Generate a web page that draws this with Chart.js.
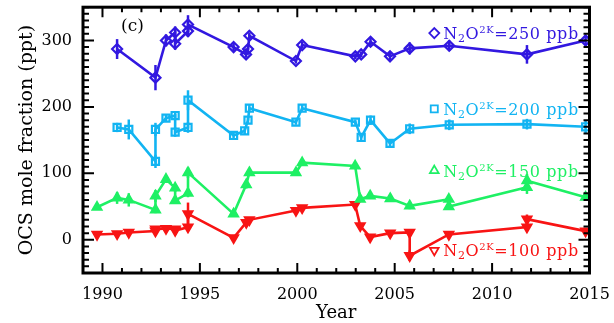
<!DOCTYPE html>
<html>
<head>
<meta charset="utf-8">
<script src="https://cdn.jsdelivr.net/npm/chart.js@4/dist/chart.umd.min.js"></script>
<style>
html, body { margin: 0; padding: 0; background: #fff; }
</style>
</head>
<body>
<canvas id="ocs" width="614" height="323"></canvas>
<script>
// OCS mole fraction (ppt) at four N2O 2K levels, with retrieval uncertainty
const years250 = [1990.75, 1992.72, 1993.26, 1993.73, 1993.73, 1994.39, 1994.39, 1996.73, 1997.37, 1997.47, 1997.54, 1999.93, 2000.25, 2002.98, 2003.28, 2003.76, 2004.76, 2005.77, 2007.8, 2011.79, 2014.8];
const ocs250 = [287, 244, 300, 312, 295, 314, 324, 290, 279, 287, 307, 269, 293, 276, 279, 298, 276, 288, 292, 279, 300];
const err250 = [15, 19, 9, 9, 9, 9, 14, 6, 5, 5, 5, 4, 5, 4, 4, 6, 6, 9, 8, 14, 8];

const years200 = [1990.75, 1991.35, 1992.72, 1992.72, 1993.26, 1993.73, 1993.73, 1994.39, 1994.39, 1996.73, 1997.3, 1997.47, 1997.54, 1999.93, 2000.25, 2002.98, 2003.28, 2003.76, 2004.76, 2005.77, 2007.8, 2011.79, 2014.8];
const ocs200 = [169, 166, 118, 166, 183, 187, 162, 169, 210, 157, 164, 180, 198, 177, 198, 177, 154, 180, 145, 167, 173, 174, 170];
const err200 = [7, 15, 10, 10, 5, 6, 7, 8, 15, 4, 5, 6, 5, 4, 5, 4, 5, 7, 4, 8, 8, 8, 10];

const years150 = [1989.72, 1990.75, 1991.35, 1992.72, 1992.72, 1993.26, 1993.73, 1993.73, 1994.39, 1994.39, 1996.73, 1997.38, 1997.54, 1999.93, 2000.25, 2002.97, 2003.23, 2003.74, 2004.77, 2005.77, 2007.78, 2007.78, 2011.79, 2011.79, 2014.8];
const ocs150 = [49, 63, 60, 45, 66, 91, 78, 59, 70, 101, 39, 83, 101, 101, 116, 111, 61, 66, 62, 51, 61, 50, 79, 89, 64];
const err150 = [4, 9, 10, 5, 9, 5, 6, 5, 6, 8, 4, 6, 5, 4, 5, 4, 4, 4, 4, 5, 5, 5, 10, 10, 5];

const years100 = [1989.72, 1990.75, 1991.35, 1992.72, 1992.72, 1993.26, 1993.73, 1993.73, 1994.39, 1994.39, 1996.73, 1997.38, 1997.54, 1999.93, 2000.25, 2002.97, 2003.23, 2003.74, 2004.77, 2005.77, 2005.77, 2007.78, 2011.79, 2011.79, 2014.8];
const ocs100 = [8, 9, 11, 13, 16, 17, 16, 14, 19, 39, 3, 26, 30, 44, 48, 53, 21, 4, 10, 11, -24, 8, 19, 31, 13];
const err100 = [3, 3, 3, 4, 4, 3, 3, 3, 4, 17, 3, 4, 4, 3, 3, 3, 4, 3, 3, 3, 8, 3, 4, 7, 3];

const levels = ['250', '200', '150', '100'];
const yearTicks = [1990, 1995, 2000, 2005, 2010, 2015];
const ocsTicks = [0, 100, 200, 300];

const FONT = '"DejaVu Serif", "Liberation Serif", serif';
const colors = ['#3218e0', '#12b4f2', '#1ef064', '#f81414'];

function series(years, vals, errs, color, style, filled, rotation) {
  return {
    data: years.map((x, i) => ({x: x, y: vals[i]})),
    errors: errs,
    borderColor: color,
    backgroundColor: color,
    borderWidth: 2.6,
    tension: 0,
    pointStyle: style,
    pointRadius: 5,
    pointBorderWidth: 2.2,
    pointRotation: rotation,
    pointBackgroundColor: filled ? color : 'rgba(0,0,0,0)',
  };
}

// vertical error bars, drawn under the markers
const errorBars = {
  id: 'errorBars',
  beforeDatasetsDraw(chart) {
    const {ctx, scales: {x, y}} = chart;
    ctx.save();
    ctx.lineWidth = 2.5;
    chart.data.datasets.forEach(ds => {
      ctx.strokeStyle = ds.borderColor;
      ds.data.forEach((p, i) => {
        const e = ds.errors[i];
        const px = x.getPixelForValue(p.x);
        ctx.beginPath();
        ctx.moveTo(px, y.getPixelForValue(p.y - e));
        ctx.lineTo(px, y.getPixelForValue(p.y + e));
        ctx.stroke();
      });
    });
    ctx.restore();
  }
};

// closed frame with inward major/minor ticks on all four sides
const frame = {
  id: 'frame',
  afterDraw(chart) {
    const {ctx, chartArea: a, scales: {x, y}} = chart;
    ctx.save();
    ctx.strokeStyle = '#000';
    ctx.lineWidth = 2;
    ctx.beginPath();
    for (let yr = Math.ceil(x.min); yr <= x.max; yr++) {
      const px = x.getPixelForValue(yr);
      const len = yr % 5 === 0 ? 10 : 5;
      ctx.moveTo(px, a.bottom); ctx.lineTo(px, a.bottom - len);
      ctx.moveTo(px, a.top); ctx.lineTo(px, a.top + len);
    }
    for (let v = y.min; v <= y.max; v += 10) {
      const py = y.getPixelForValue(v);
      const len = v % 100 === 0 ? 11 : 6;
      ctx.moveTo(a.left, py); ctx.lineTo(a.left + len, py);
      ctx.moveTo(a.right, py); ctx.lineTo(a.right - len, py);
    }
    ctx.stroke();
    ctx.lineWidth = 3;
    ctx.strokeRect(a.left, a.top, a.right - a.left, a.bottom - a.top);
    ctx.restore();
  }
};

// panel letter and the N2O 2K level labels
const labels = {
  id: 'labels',
  afterDatasetsDraw(chart) {
    const {ctx, chartArea: a, scales: {x, y}} = chart;
    ctx.save();
    ctx.fillStyle = '#000';
    ctx.font = '17px ' + FONT;
    ctx.textBaseline = 'middle';
    ctx.textAlign = 'left';
    ctx.fillText('(c)', a.left + 38, a.top + 19);

    const labelY = [311, 197, 104, -16];
    const styles = ['rectRot', 'rect', 'triangle', 'triangle'];
    const rots = [0, 0, 0, 180];
    const xRight = x.getPixelForValue(2014.45);
    ctx.letterSpacing = '0.6px';
    levels.forEach((lvl, k) => {
      const yMid = y.getPixelForValue(labelY[k]);
      const base = yMid + 6;
      const parts = [
        ['N', 16, 0], ['2', 11, 3], ['O', 16, 0], ['2K', 10, -6], ['=' + lvl + ' ppb', 16, 0]
      ];
      let w = 0;
      parts.forEach(p => { ctx.font = p[1] + 'px ' + FONT; w += ctx.measureText(p[0]).width; });
      let cx = xRight - w;
      const left = cx;
      ctx.fillStyle = colors[k];
      ctx.textBaseline = 'alphabetic';
      parts.forEach(p => {
        ctx.font = p[1] + 'px ' + FONT;
        ctx.fillText(p[0], cx, base + p[2]);
        cx += ctx.measureText(p[0]).width;
      });
      ctx.strokeStyle = colors[k];
      ctx.fillStyle = 'rgba(0,0,0,0)';
      ctx.lineWidth = 1.8;
      Chart.helpers.drawPoint(ctx, {pointStyle: styles[k], radius: 5, rotation: rots[k], borderWidth: 1.8}, left - 9, yMid);
    });
    ctx.restore();
  }
};

new Chart(document.getElementById('ocs').getContext('2d'), {
  type: 'line',
  data: {
    datasets: [
      series(years250, ocs250, err250, colors[0], 'rectRot', false, 0),
      series(years200, ocs200, err200, colors[1], 'rect', false, 0),
      series(years150, ocs150, err150, colors[2], 'triangle', true, 0),
      series(years100, ocs100, err100, colors[3], 'triangle', true, 180),
    ]
  },
  options: {
    responsive: false,
    animation: false,
    devicePixelRatio: 1,
    layout: { padding: {top: 6, right: 24.5, left: 0, bottom: 0} },
    plugins: { legend: {display: false}, tooltip: {enabled: false} },
    scales: {
      x: {
        type: 'linear', min: 1989, max: 2015,
        afterBuildTicks: s => { s.ticks = yearTicks.map(v => ({value: v})); },
        afterFit: s => { s.height = 50; s.paddingLeft = 0; s.paddingRight = 0; },
        grid: {display: false, drawTicks: false},
        border: {display: false},
        ticks: {padding: 12, color: '#000', autoSkip: false, maxRotation: 0, font: {family: FONT, size: 16},
                callback: v => String(v)},
        title: {display: true, text: 'Year', color: '#000', font: {family: FONT, size: 18}, padding: {top: 0, bottom: -1}}
      },
      y: {
        type: 'linear', min: -50, max: 350,
        afterBuildTicks: s => { s.ticks = ocsTicks.map(v => ({value: v})); },
        afterFit: s => { s.width = 83; s.paddingTop = 0; s.paddingBottom = 0; },
        grid: {display: false, drawTicks: false},
        border: {display: false},
        ticks: {padding: 11, color: '#000', font: {family: FONT, size: 16}, callback: v => String(v)},
        title: {display: true, text: 'OCS mole fraction (ppt)', color: '#000', font: {family: FONT, size: 19}, padding: {top: 16, bottom: 0}}
      }
    }
  },
  plugins: [errorBars, frame, labels]
});
</script>
</body>
</html>
